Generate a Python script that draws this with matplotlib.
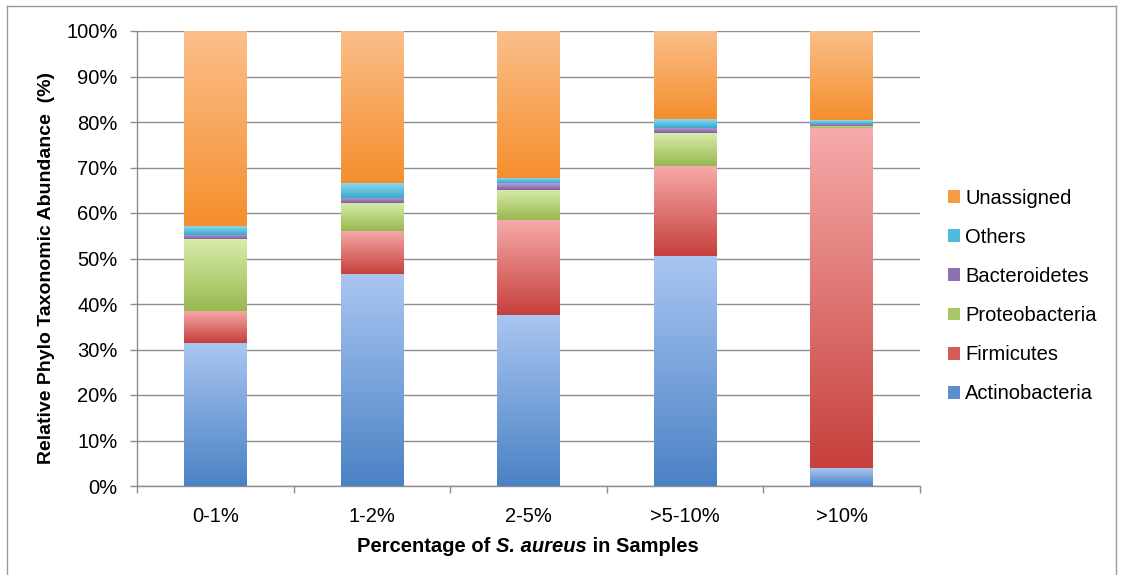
import matplotlib
matplotlib.use("Agg")
import matplotlib.pyplot as plt
import numpy as np
from matplotlib.colors import LinearSegmentedColormap
from matplotlib.patches import Patch
from matplotlib.lines import Line2D

plt.rcParams['font.family'] = ['Liberation Sans', 'DejaVu Sans']

# Relative abundance (%) of each phylum per S. aureus bin
categories = ["0-1%", "1-2%", "2-5%", ">5-10%", ">10%"]
actinobacteria = [31.4, 46.5, 37.6, 50.6, 3.9]
firmicutes = [7.1, 9.5, 20.9, 19.8, 74.7]
proteobacteria = [15.7, 6.3, 6.6, 7.1, 0.5]
bacteroidetes = [0.9, 1.1, 1.4, 1.1, 0.5]
others = [2.1, 3.3, 1.3, 2.0, 0.8]
unassigned = [42.8, 33.3, 32.2, 19.4, 19.6]

series_names = ["Actinobacteria", "Firmicutes", "Proteobacteria",
                "Bacteroidetes", "Others", "Unassigned"]
series_values = [actinobacteria, firmicutes, proteobacteria,
                 bacteroidetes, others, unassigned]
yticks = [0, 10, 20, 30, 40, 50, 60, 70, 80, 90, 100]

# (top, bottom) gradient colours of each segment
gradients = {
    "Actinobacteria": ("#aac6f2", "#4a82c4"),
    "Firmicutes": ("#f6abaa", "#c6403c"),
    "Proteobacteria": ("#d9ecaa", "#97b94f"),
    "Bacteroidetes": ("#b7a2d6", "#7d60a0"),
    "Others": ("#94dcef", "#3aa8ce"),
    "Unassigned": ("#fbbf8a", "#f58f2e"),
}
legend_colors = {
    "Actinobacteria": "#5b8fd0",
    "Firmicutes": "#d35c58",
    "Proteobacteria": "#a6c766",
    "Bacteroidetes": "#8d72b3",
    "Others": "#4fbad9",
    "Unassigned": "#f79a44",
}

fig = plt.figure(figsize=(11.23, 5.75), dpi=100)
ax = fig.add_axes([137 / 1123, 89 / 575, 783 / 1123, 455 / 575])

x = np.arange(len(categories))
bar_width = 0.4
bottoms = np.zeros(len(categories))
grad = np.linspace(0, 1, 256).reshape(-1, 1)

for name, vals in zip(series_names, series_values):
    vals = np.asarray(vals, dtype=float)
    top_c, bot_c = gradients[name]
    cmap = LinearSegmentedColormap.from_list(name, [bot_c, top_c])
    bars = ax.bar(x, vals, bar_width, bottom=bottoms, color=bot_c,
                  edgecolor="none", zorder=2)
    for rect in bars:
        x0, y0 = rect.get_x(), rect.get_y()
        w, h = rect.get_width(), rect.get_height()
        if h <= 0:
            continue
        im = ax.imshow(grad, cmap=cmap, aspect="auto", origin="lower",
                       extent=(x0, x0 + w, y0, y0 + h), zorder=3,
                       interpolation="bilinear")
        im.set_clip_path(rect)
    bottoms += vals

ax.set_xlim(-0.5, len(categories) - 0.5)
ax.set_ylim(0, 100)

tick_fs = 14.5

# gridlines
ax.set_yticks(yticks)
ax.set_yticklabels([f"{v}%" for v in yticks], fontsize=tick_fs)
ax.yaxis.grid(True, color="#8e8e8e", linewidth=1.0, zorder=0)
ax.set_axisbelow(True)

# x ticks: marks at category boundaries, labels at centres
ax.set_xticks(np.arange(len(categories) + 1) - 0.5)
ax.set_xticklabels([])
ax.set_xticks(x, minor=True)
ax.set_xticklabels(categories, minor=True, fontsize=tick_fs)
ax.tick_params(axis="x", which="major", length=5, color="#8e8e8e", width=1)
ax.tick_params(axis="x", which="minor", length=0, pad=15)
ax.tick_params(axis="y", length=5, color="#8e8e8e", width=1, pad=9)

for side in ("top", "right"):
    ax.spines[side].set_visible(False)
for side in ("left", "bottom"):
    ax.spines[side].set_color("#8e8e8e")
    ax.spines[side].set_linewidth(1.0)

# y label
fig.text(47 / 1123, 1 - 268 / 575, "Relative Phylo Taxonomic Abundance  (%)",
         rotation=90, ha="center", va="center", fontsize=14,
         fontweight="bold")

# x label with italic species name
fig.canvas.draw()
renderer = fig.canvas.get_renderer()
parts = [("Percentage of ", "normal"), ("S. aureus", "italic"),
         (" in Samples", "normal")]
texts = []
for s, style in parts:
    t = fig.text(0, 0, s, fontsize=14.5, fontweight="bold", fontstyle=style,
                 ha="left", va="center")
    texts.append(t)
widths = [t.get_window_extent(renderer).width for t in texts]
total = sum(widths)
xc = 528
cur = xc - total / 2
for t, w in zip(texts, widths):
    t.set_position((cur / 1123, 1 - 546 / 575))
    cur += w

# legend (top to bottom: Unassigned ... Actinobacteria)
handles = [Patch(facecolor=legend_colors[n], edgecolor="none", label=n)
           for n in reversed(series_names)]
fig.legend(handles=handles, loc="center left",
           bbox_to_anchor=(948 / 1123, 1 - 296 / 575), frameon=False,
           fontsize=14.5, handlelength=0.6, handleheight=0.6,
           handletextpad=0.25, labelspacing=1.0, borderpad=0,
           borderaxespad=0)

# outer frame
frame_kw = dict(color="#9a9a9a", linewidth=1.0, transform=fig.transFigure)
l, r, t = 7 / 1123, 1116 / 1123, 1 - 6 / 575
fig.add_artist(Line2D([l, r], [t, t], **frame_kw))
fig.add_artist(Line2D([l, l], [0, t], **frame_kw))
fig.add_artist(Line2D([r, r], [0, t], **frame_kw))

fig.savefig("out.png", dpi=100)
